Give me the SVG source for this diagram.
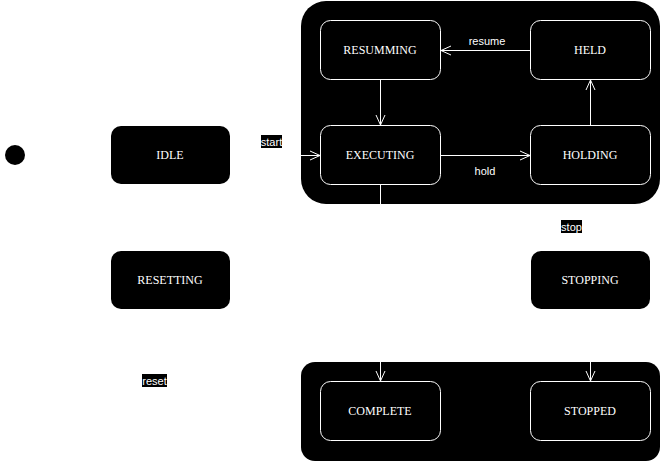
<svg xmlns="http://www.w3.org/2000/svg" width="661" height="462" viewBox="0 0 661 462">
<style>
.cont{fill:#000;stroke:none}
.st{fill:#000;stroke:#fff;stroke-width:1}
.plain{fill:#000;stroke:none}
.nt{font-family:"Liberation Serif","Times New Roman",serif;font-size:12px;fill:#fff;text-anchor:middle}
.e{fill:none;stroke:#fff;stroke-width:1}
.lb{font-family:"Liberation Sans",Arial,sans-serif;font-size:11px;fill:#fff;text-anchor:middle}
.lbg{fill:#000}
</style>
<defs>
<marker id="open" viewBox="0 0 12 12" refX="11" refY="6" markerWidth="12" markerHeight="12" markerUnits="userSpaceOnUse" orient="auto">
<path d="M1,1.5 L11,6 L1,10.5" fill="none" stroke="#fff" stroke-width="1"/>
</marker>
</defs>
<rect width="661" height="462" fill="#fff"/>
<g id="container-top"><rect class="cont" x="301" y="1" width="359" height="203" rx="25"/></g>
<g id="container-bottom"><rect class="cont" x="301" y="362" width="359" height="99" rx="14"/></g>
<g id="initial"><circle cx="15" cy="155" r="10" fill="#000"/></g>
<g id="idle"><rect class="plain" x="111" y="126" width="119" height="58" rx="10"/><text class="nt" x="170" y="159">IDLE</text></g>
<g id="resetting"><rect class="plain" x="111" y="251" width="119" height="58" rx="10"/><text class="nt" x="170" y="284">RESETTING</text></g>
<g id="stopping"><rect class="plain" x="531" y="251" width="119" height="58" rx="10"/><text class="nt" x="590" y="284">STOPPING</text></g>
<g id="resumming"><rect class="st" x="320.5" y="20.5" width="120" height="59" rx="10"/><text class="nt" x="380" y="54">RESUMMING</text></g>
<g id="held"><rect class="st" x="530.5" y="20.5" width="120" height="59" rx="10"/><text class="nt" x="590" y="54">HELD</text></g>
<g id="executing"><rect class="st" x="320.5" y="125.5" width="120" height="59" rx="10"/><text class="nt" x="380" y="159">EXECUTING</text></g>
<g id="holding"><rect class="st" x="530.5" y="125.5" width="120" height="59" rx="10"/><text class="nt" x="590" y="159">HOLDING</text></g>
<g id="complete"><rect class="st" x="320.5" y="381.5" width="120" height="59" rx="10"/><text class="nt" x="380" y="415">COMPLETE</text></g>
<g id="stopped"><rect class="st" x="530.5" y="381.5" width="120" height="59" rx="10"/><text class="nt" x="590" y="415">STOPPED</text></g>
<g id="connectors">
<path class="e" d="M25,155 H111" marker-end="url(#open)"/>
<path class="e" d="M230,155.5 H320" marker-end="url(#open)"/>
<rect class="lbg" x="261" y="135" width="21" height="13"/>
<text class="lb" x="271.5" y="145.5">start</text>
<path class="e" d="M380.5,80 V125" marker-end="url(#open)"/>
<path class="e" d="M440,155.5 H530" marker-end="url(#open)"/>
<text class="lb" x="485" y="175">hold</text>
<path class="e" d="M590.5,125 V80" marker-end="url(#open)"/>
<path class="e" d="M530,50.5 H441" marker-end="url(#open)"/>
<text class="lb" x="487" y="45">resume</text>
<path class="e" d="M380.5,185 V381" marker-end="url(#open)"/>
<path class="e" d="M590.5,204 V251" marker-end="url(#open)"/>
<rect class="lbg" x="561" y="220" width="21" height="13"/>
<text class="lb" x="571.5" y="230.5">stop</text>
<path class="e" d="M590.5,310 V381" marker-end="url(#open)"/>
<path class="e" d="M301,411 H170.5 V310" marker-end="url(#open)"/>
<rect class="lbg" x="142" y="374" width="25" height="13"/>
<text class="lb" x="154.5" y="384.5">reset</text>
<path class="e" d="M170.5,251 V185" marker-end="url(#open)"/>
</g>
</svg>
